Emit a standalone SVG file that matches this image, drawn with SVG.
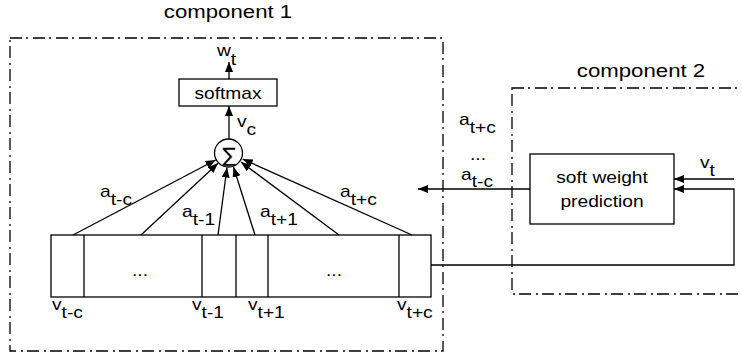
<svg xmlns="http://www.w3.org/2000/svg" width="742" height="356" viewBox="0 0 742 356">
<defs>
<marker id="ah" markerWidth="11" markerHeight="9" refX="10" refY="4" orient="auto" markerUnits="userSpaceOnUse">
<path d="M0,0 L10,4 L0,8 z" fill="#000"/>
</marker>
<style>
text{font-family:"Liberation Sans",Arial,Helvetica,sans-serif;font-size:16px;fill:#000}
.big{font-size:18.5px}
.frame{fill:none;stroke:#000;stroke-width:1.3;stroke-dasharray:12 4 2 5}
.box{fill:#fff;stroke:#000;stroke-width:1.3}
.ln{fill:none;stroke:#000;stroke-width:1.3}
.arr{fill:none;stroke:#000;stroke-width:1.3;marker-end:url(#ah)}
</style>
</defs>
<rect width="742" height="356" fill="#fff"/>

<g id="component1">
<rect class="frame" x="10" y="38" width="433" height="313"/>
<text class="big" text-anchor="middle" transform="translate(228,18) scale(1.2,1)">component 1</text>
</g>

<g id="component2">
<rect class="frame" x="512" y="88" width="240" height="206"/>
<text class="big" text-anchor="middle" transform="translate(641,77) scale(1.2,1)">component 2</text>
</g>

<g id="softmax">
<rect class="box" x="179" y="79" width="98" height="27"/>
<text text-anchor="middle" transform="translate(228,99) scale(1.2,1)">softmax</text>
</g>

<g id="sum">
<circle cx="228.5" cy="153" r="14" fill="#fff" stroke="#000" stroke-width="1.3"/>
<text x="229" y="162" text-anchor="middle" style="font-family:'DejaVu Sans',sans-serif;font-size:20px">∑</text>
</g>

<g id="vectors">
<rect class="box" x="51" y="235" width="380" height="62"/>
<line class="ln" x1="84" y1="235" x2="84" y2="297"/>
<line class="ln" x1="202" y1="235" x2="202" y2="297"/>
<line class="ln" x1="236" y1="235" x2="236" y2="297"/>
<line class="ln" x1="268" y1="235" x2="268" y2="297"/>
<line class="ln" x1="399" y1="235" x2="399" y2="297"/>
<text text-anchor="middle" transform="translate(140,276) scale(1.2,1)">...</text>
<text text-anchor="middle" transform="translate(334,276) scale(1.2,1)">...</text>
<text transform="translate(52,310) scale(1.2,1)">v<tspan dy="8">t-c</tspan></text>
<text transform="translate(192,310) scale(1.2,1)">v<tspan dy="8">t-1</tspan></text>
<text transform="translate(248,310) scale(1.2,1)">v<tspan dy="8">t+1</tspan></text>
<text transform="translate(397,310) scale(1.2,1)">v<tspan dy="8">t+c</tspan></text>
</g>

<g id="softweight">
<rect class="box" x="530" y="154" width="144" height="70"/>
<text text-anchor="middle" transform="translate(602,183) scale(1.2,1)">soft weight</text>
<text text-anchor="middle" transform="translate(602,207) scale(1.2,1)">prediction</text>
</g>

<g id="connectors">
<line class="arr" x1="229" y1="79" x2="229" y2="62"/>
<line class="arr" x1="229" y1="139" x2="229" y2="106"/>
<line class="arr" x1="73" y1="235" x2="215.7" y2="160"/>
<line class="arr" x1="141" y1="235" x2="218" y2="163.2"/>
<line class="arr" x1="218" y1="235" x2="227" y2="167.5"/>
<line class="arr" x1="255" y1="235" x2="233.5" y2="167"/>
<line class="arr" x1="339" y1="235" x2="241" y2="162"/>
<line class="arr" x1="412" y1="235" x2="242.7" y2="159.1"/>
<line class="arr" x1="530" y1="189" x2="418" y2="189"/>
<line class="arr" x1="734" y1="179" x2="674" y2="179"/>
<polyline class="arr" points="431,265 734,265 734,189 674,189"/>
<text transform="translate(217,56) scale(1.2,1)">w<tspan dy="9">t</tspan></text>
<text transform="translate(237,127) scale(1.2,1)">v<tspan dy="8">c</tspan></text>
<text transform="translate(100,197) scale(1.2,1)">a<tspan dy="8">t-c</tspan></text>
<text transform="translate(182,217) scale(1.2,1)">a<tspan dy="8">t-1</tspan></text>
<text transform="translate(260,217) scale(1.2,1)">a<tspan dy="8">t+1</tspan></text>
<text transform="translate(340,197) scale(1.2,1)">a<tspan dy="8">t+c</tspan></text>
<text transform="translate(459,125) scale(1.2,1)">a<tspan dy="8">t+c</tspan></text>
<text transform="translate(470,160) scale(1.2,1)">...</text>
<text transform="translate(461,180) scale(1.2,1)">a<tspan dy="7">t-c</tspan></text>
<text transform="translate(700,168) scale(1.2,1)">v<tspan dy="8">t</tspan></text>
</g>
</svg>
